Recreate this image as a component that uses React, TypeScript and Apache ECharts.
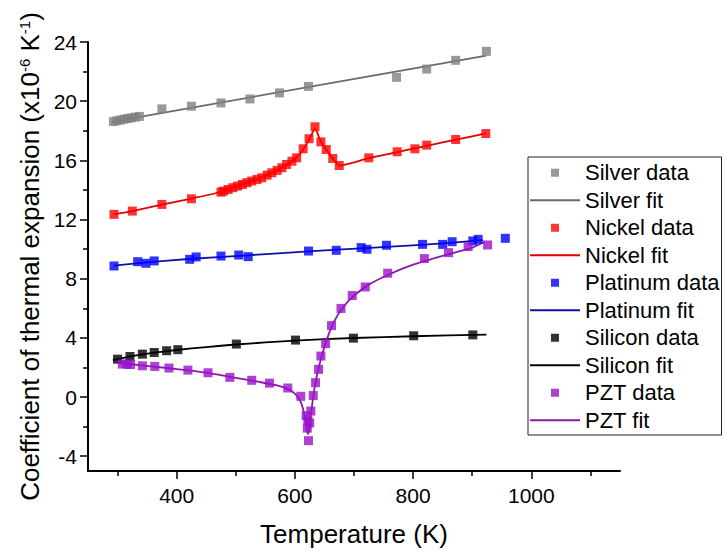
import React, { useEffect, useRef } from 'react';
import * as echarts from 'echarts';

// ---- Data (temperature K, CTE x10^-6 K^-1) ----
const silverData = [
  [293, 18.62], [299, 18.68], [305, 18.73], [311, 18.78], [317, 18.83], [323, 18.87], [330, 18.92], [337, 18.97],
  [375, 19.48], [425, 19.66], [475, 19.88], [524, 20.15], [574, 20.56], [623, 21.0], [772, 21.61], [823, 22.17],
  [872, 22.76], [924, 23.37],
];
const silverFit = [[290, 18.6], [924, 23.08]];

const nickelData = [
  [294, 12.35], [325, 12.57], [375, 13.02], [425, 13.4], [475, 13.85], [479, 13.92], [487, 14.03], [495, 14.15],
  [503, 14.26], [511, 14.37], [519, 14.49], [527, 14.6], [536, 14.71], [544, 14.82], [553, 15.0], [561, 15.16],
  [570, 15.32], [578, 15.5], [586, 15.72], [595, 15.94], [603, 16.17], [614, 16.78], [624, 17.46], [634, 18.27],
  [644, 17.25], [653, 16.73], [664, 16.13], [675, 15.65], [725, 16.17], [773, 16.58], [803, 16.78], [823, 17.03],
  [872, 17.41], [923, 17.81],
];
const nickelFit = [
  [294, 12.35], [325, 12.57], [375, 13.0], [425, 13.42], [475, 13.86], [500, 14.22], [525, 14.56], [550, 14.96],
  [575, 15.43], [595, 15.94], [610, 16.5], [624, 17.4], [634, 18.15], [644, 17.25], [655, 16.62], [665, 16.08],
  [675, 15.65], [725, 16.15], [775, 16.57], [825, 17.0], [875, 17.42], [923, 17.82],
];

const platinumData = [
  [294, 8.86], [334, 9.15], [348, 9.04], [362, 9.2], [422, 9.31], [433, 9.47], [475, 9.53], [505, 9.6], [521, 9.49],
  [623, 9.87], [670, 9.92], [712, 10.1], [722, 9.99], [755, 10.26], [816, 10.32], [850, 10.32], [866, 10.5],
  [901, 10.55], [910, 10.66], [956, 10.73],
];
const platinumFit = [
  [294, 8.88], [350, 9.1], [420, 9.33], [520, 9.58], [623, 9.85], [720, 10.07], [820, 10.3], [918, 10.6],
];

const siliconData = [
  [300, 2.56], [321, 2.74], [342, 2.9], [362, 3.01], [383, 3.13], [402, 3.2], [501, 3.58], [601, 3.85],
  [699, 3.98], [801, 4.14], [901, 4.2],
];
const siliconFit = [
  [292, 2.5], [320, 2.73], [360, 2.98], [400, 3.18], [450, 3.38], [500, 3.55], [600, 3.82], [700, 3.99],
  [800, 4.11], [924, 4.22],
];

const pztData = [
  [308, 2.23], [316, 2.22], [322, 2.2], [342, 2.11], [363, 2.07], [387, 1.96], [419, 1.82], [453, 1.64],
  [490, 1.33], [527, 1.13], [557, 0.94], [588, 0.61], [610, 0.05], [619, -1.26], [621, -2.1], [622, -1.6],
  [623, -2.95], [625, -1.75], [627, -0.95], [631, 0.1], [635, 0.97], [640, 1.87], [644, 2.77], [652, 3.61],
  [662, 4.83], [678, 5.99], [697, 6.86], [719, 7.44], [757, 8.37], [819, 9.36], [860, 9.76], [893, 10.17],
  [926, 10.28],
];
const pztFit = [
  [305, 2.3], [340, 2.14], [380, 1.98], [420, 1.8], [460, 1.58], [500, 1.3], [540, 1.02], [570, 0.78],
  [590, 0.5], [602, 0.15], [610, -0.35], [615, -1.0], [619, -1.8], [622, -2.5], [624, -2.3], [626, -1.6],
  [629, -0.6], [632, 0.3], [636, 1.2], [641, 2.1], [647, 3.0], [655, 4.0], [665, 5.0], [680, 6.0],
  [700, 6.85], [725, 7.6], [760, 8.3], [800, 8.95], [850, 9.55], [900, 10.1], [921, 10.5],
];

// ---- Axis ticks ----
const xMajorTicks = [400, 600, 800, 1000];
const xMinorTicks = [300, 500, 700, 900, 1100];
const yMajorTicks = [-4, 0, 4, 8, 12, 16, 20, 24];
const yMinorTicks = [-2, 2, 6, 10, 14, 18, 22];

const legendNames = [
  'Silver data', 'Silver fit', 'Nickel data', 'Nickel fit', 'Platinum data', 'Platinum fit',
  'Silicon data', 'Silicon fit', 'PZT data', 'PZT fit',
];

export default function App() {
  const ref = useRef<HTMLDivElement>(null);
  useEffect(() => {
    const chart = echarts.init(ref.current as HTMLDivElement, null, { renderer: 'svg' });
    const font = 'Arial, "Liberation Sans", sans-serif';
    const sq = 'path://M0,0H10V10H0Z';
    const bar = 'path://M0,0H50V1.8H0Z';
    const X0 = 250, X1 = 1150, Y0 = -5, Y1 = 24;

    const scatter = (name: string, data: number[][], color: string) => ({
      name, type: 'scatter', data, symbol: 'rect', symbolSize: 9, z: 3,
      itemStyle: { color },
    });
    const fit = (name: string, data: number[][], color: string, smooth: number | boolean) => ({
      name, type: 'line', data, symbol: 'none', showSymbol: false, smooth, z: 2,
      lineStyle: { color, width: 1.8 }, itemStyle: { color },
    });

    chart.setOption({
      animation: false,
      backgroundColor: '#ffffff',
      textStyle: { fontFamily: font, color: '#000' },
      grid: { left: 88, right: 107, top: 42, bottom: 80, containLabel: false },
      legend: {
        orient: 'vertical', left: 528, top: 157, padding: [2, 2, 1, 2], itemGap: 0,
        itemWidth: 50, itemHeight: 8, borderColor: '#222', borderWidth: 1, backgroundColor: '#fff',
        selectedMode: false,
        textStyle: { fontSize: 22, color: '#000', lineHeight: 27.5, fontFamily: font },
        data: legendNames.map((n) => (n.endsWith('data') ? { name: n, icon: sq } : { name: n, icon: bar })),
      },
      xAxis: [
        {
          type: 'value', position: 'bottom', min: X0, max: X1,
          name: 'Temperature (K)', nameLocation: 'middle', nameGap: 50,
          nameTextStyle: { fontSize: 26, color: '#000', fontFamily: font },
          axisLine: { show: true, onZero: false, lineStyle: { color: '#000', width: 2 } },
          axisTick: { show: true, inside: false, length: 8, customValues: xMajorTicks, lineStyle: { color: '#000', width: 1.5 } },
          axisLabel: {
            show: true, customValues: xMajorTicks, fontSize: 21, color: '#000', margin: 14, fontFamily: font,
            formatter: (v: number) => String(v),
          },
          splitLine: { show: false },
        },
        {
          type: 'value', position: 'bottom', min: X0, max: X1,
          axisLine: { show: false, onZero: false },
          axisTick: { show: true, inside: false, length: 5, customValues: xMinorTicks, lineStyle: { color: '#000', width: 1.5 } },
          axisLabel: { show: false },
          splitLine: { show: false },
        },
      ],
      yAxis: [
        {
          type: 'value', position: 'left', min: Y0, max: Y1,
          name: 'Coefficient of thermal expansion (x10{sup|-6} K{sup|-1})',
          nameLocation: 'middle', nameGap: 44,
          nameTextStyle: {
            fontSize: 26, color: '#000', fontFamily: font,
            rich: { sup: { fontSize: 15, color: '#000', verticalAlign: 'top', fontFamily: font } },
          },
          axisLine: { show: true, onZero: false, lineStyle: { color: '#000', width: 2 } },
          axisTick: { show: true, inside: false, length: 8, customValues: yMajorTicks, lineStyle: { color: '#000', width: 1.5 } },
          axisLabel: {
            show: true, customValues: yMajorTicks, fontSize: 21, color: '#000', margin: 11, fontFamily: font,
            formatter: (v: number) => String(v),
          },
          splitLine: { show: false },
        },
        {
          type: 'value', position: 'left', min: Y0, max: Y1,
          axisLine: { show: false, onZero: false },
          axisTick: { show: true, inside: false, length: 5, customValues: yMinorTicks, lineStyle: { color: '#000', width: 1.5 } },
          axisLabel: { show: false },
          splitLine: { show: false },
        },
      ],
      series: [
        fit('Silver fit', silverFit, '#6a6a6a', false),
        fit('Nickel fit', nickelFit, '#e00000', 0.2),
        fit('Platinum fit', platinumFit, '#1010a8', 0.2),
        fit('Silicon fit', siliconFit, '#000000', 0.2),
        fit('PZT fit', pztFit, '#8c1aa8', 0.2),
        scatter('Silver data', silverData, '#7f7f7f'),
        scatter('Nickel data', nickelData, '#ff0000'),
        scatter('Platinum data', platinumData, '#0000ff'),
        scatter('Silicon data', siliconData, '#000000'),
        scatter('PZT data', pztData, '#9a12c9'),
      ],
    });
    return () => chart.dispose();
  }, []);

  return (
    <div
      ref={ref}
      style={{ position: 'fixed', left: 0, top: 0, width: 727, height: 552, background: '#fff' }}
    />
  );
}
